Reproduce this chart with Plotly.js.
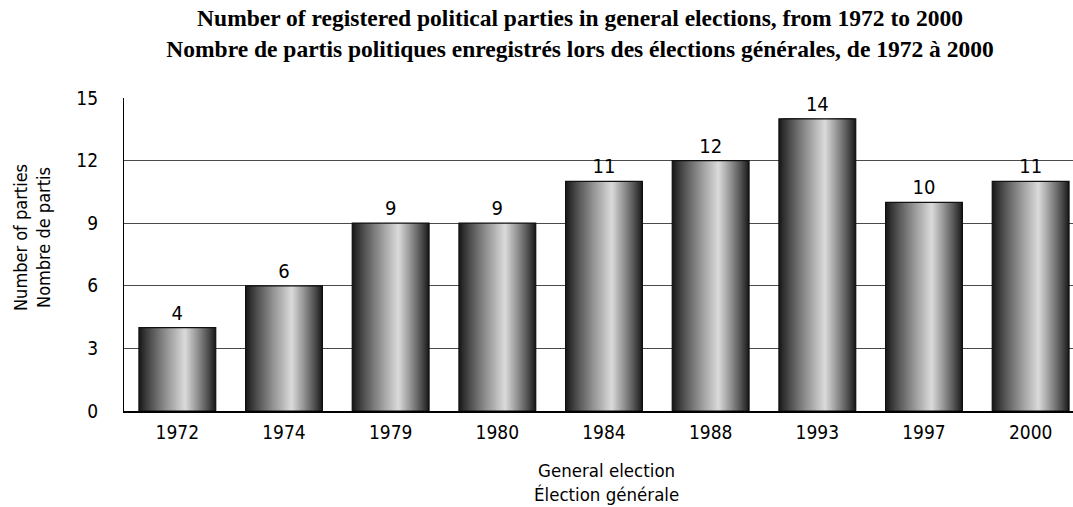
<!DOCTYPE html>
<html>
<head>
<meta charset="utf-8">
<script src="https://cdn.plot.ly/plotly-3.0.1.min.js"></script>
<style>
  html, body { margin: 0; padding: 0; background: #fff; }
  #chart { width: 1073px; height: 507px; }
</style>
</head>
<body>
<div id="chart"></div>
<script>
// Registered parties per general election
const years = ['1972', '1974', '1979', '1980', '1984', '1988', '1993', '1997', '2000'];
const parties = [4, 6, 9, 9, 11, 12, 14, 10, 11];
const yTicks = [0, 3, 6, 9, 12, 15];

const titleText = 'Number of registered political parties in general elections, from 1972 to 2000' +
  '<br>Nombre de partis politiques enregistrés lors des élections générales, de 1972 à 2000';
const xTitle = 'General election<br>Élection générale';
const yTitle = 'Number of parties<br>Nombre de partis';

const sans = '"DejaVu Sans Condensed", "DejaVu Sans", sans-serif';
const serif = '"Liberation Serif", "DejaVu Serif", serif';

// Cylinder-like shading: stacked overlay bars that narrow toward a bright band
const BAR_W = 0.72;   // bar width in category units
const PEAK = 0.6;     // position of the highlight across the bar (0..1)
const STEPS = 30;
const traces = [];
for (let k = 0; k < STEPS; k++) {
  const t = k / STEPS;
  const left = -BAR_W / 2 + t * PEAK * BAR_W;
  const right = BAR_W / 2 - t * (1 - PEAK) * BAR_W;
  const g = Math.round(26 + 196 * Math.pow(t, 0.9));
  traces.push({
    type: 'bar',
    x: years,
    y: parties,
    offset: left,
    width: right - left,
    marker: { color: `rgb(${g},${g},${g})`, line: { width: 0 } },
    hoverinfo: 'skip',
    showlegend: false
  });
}
// Outline and value labels on top
traces.push({
  type: 'bar',
  x: years,
  y: parties,
  offset: -BAR_W / 2,
  width: BAR_W,
  marker: { color: 'rgba(0,0,0,0)', line: { width: 1.2, color: '#111' } },
  texttemplate: '%{y}',
  textposition: 'outside',
  textfont: { family: sans, size: 20, color: '#000' },
  cliponaxis: false,
  hoverinfo: 'x+y',
  showlegend: false
});

// Plot area: 124..1073 px horizontally, 98..411 px vertically
const W = 1073, H = 507;
const L = 124, R = 1073, T = 98, B = 411;
const px = v => (v - L) / (R - L);
const py = v => (B - v) / (B - T);

const layout = {
  width: W,
  height: H,
  margin: { l: L, r: W - R, t: T, b: H - B, pad: 0 },
  paper_bgcolor: '#fff',
  plot_bgcolor: '#fff',
  barmode: 'overlay',
  title: {
    text: titleText,
    font: { family: serif, size: 23.5, color: '#000', weight: 'bold' },
    xref: 'container', yref: 'container',
    x: 580 / W, y: 1 - 26 / H,
    xanchor: 'center', yanchor: 'top'
  },
  xaxis: {
    type: 'category',
    range: [-0.5, 8.397],
    showline: true, linecolor: '#000', linewidth: 1.5,
    showgrid: false, ticks: '',
    tickfont: { family: sans, size: 19, color: '#000' },
    ticklabelstandoff: 3,
    fixedrange: true
  },
  yaxis: {
    range: [0, 15],
    tickvals: yTicks,
    ticktext: yTicks.map(String),
    showline: true, linecolor: '#000', linewidth: 1.2,
    showgrid: true, gridcolor: '#4a4a4a', gridwidth: 1,
    zeroline: false, ticks: '',
    tickfont: { family: sans, size: 19, color: '#000' },
    ticklabelstandoff: 21,
    fixedrange: true
  },
  annotations: [
    {
      text: xTitle, showarrow: false,
      xref: 'paper', yref: 'paper', x: px(606), y: py(483),
      xanchor: 'center', yanchor: 'middle',
      font: { family: sans, size: 18.5, color: '#000' }
    },
    {
      text: yTitle, showarrow: false, textangle: -90,
      xref: 'paper', yref: 'paper', x: px(32), y: py(238),
      xanchor: 'center', yanchor: 'middle',
      font: { family: sans, size: 18, color: '#000' }
    }
  ]
};

Plotly.newPlot('chart', traces, layout, { displayModeBar: false });
</script>
</body>
</html>
